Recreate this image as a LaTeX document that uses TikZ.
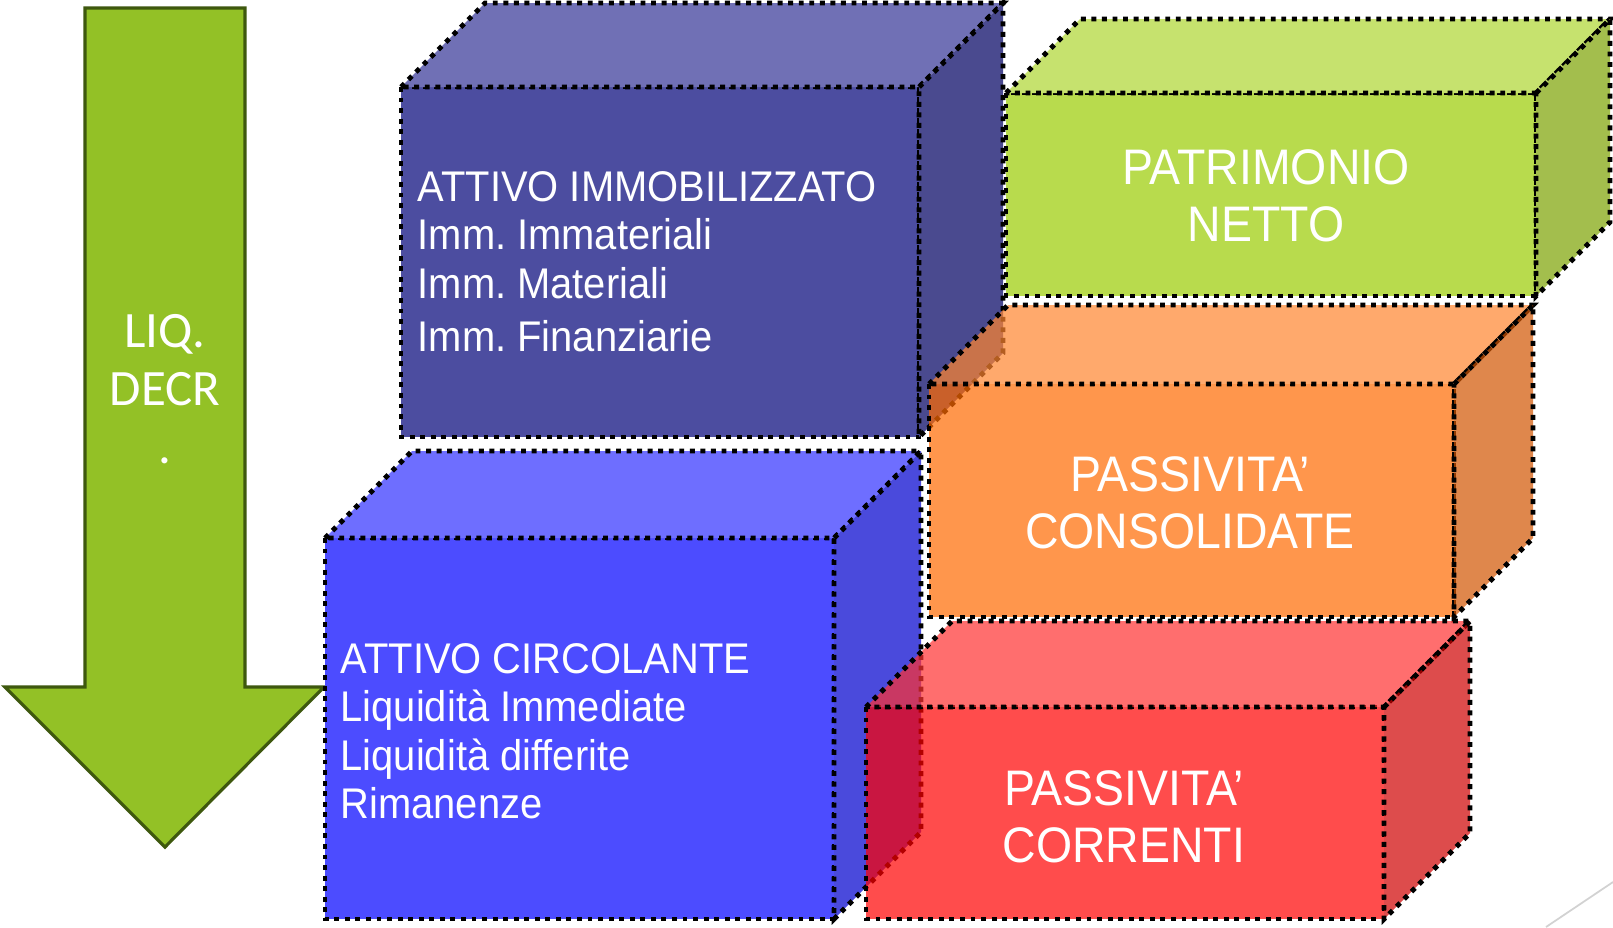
\documentclass[tikz,border=0pt]{standalone}
\usepackage{fontspec}
\setmainfont{Liberation Sans}[FakeStretch=0.93]
\newfontfamily\liqfont{Carlito}
\usepackage{xcolor}
\usepackage{tikz}
\usetikzlibrary{positioning}
\frenchspacing

\definecolor{arrowgreen}{RGB}{147,193,38}
\definecolor{arrowedge}{RGB}{62,88,14}
\definecolor{navyfront}{RGB}{76,77,160}
\definecolor{navytop}{RGB}{112,112,181}
\definecolor{navyside}{RGB}{74,74,143}
\definecolor{bluefront}{RGB}{76,76,255}
\definecolor{bluetop}{RGB}{110,110,255}
\definecolor{blueside}{RGB}{74,74,220}
\definecolor{greenfront}{RGB}{184,219,77}
\definecolor{greentop}{RGB}{198,226,110}
\definecolor{greenside}{RGB}{163,190,77}
\definecolor{orangefront}{RGB}{255,106,0}
\definecolor{orangetop}{RGB}{255,133,46}
\definecolor{orangeside}{RGB}{209,84,0}
\definecolor{redfront}{RGB}{255,0,0}
\definecolor{redtop}{RGB}{255,49,49}
\definecolor{redside}{RGB}{206,0,0}

\tikzset{
  cubeedge/.style={draw=black, line width=1.4pt, dash pattern=on 1.4pt off 1.6pt},
  itemtext/.style={text=white, anchor=north west, inner sep=0pt, align=left, font=\fontsize{12.2}{13.7}\selectfont},
  titletext/.style={text=white, align=center, inner sep=0pt, font=\fontsize{14.2}{16.2}\selectfont},
  liqtext/.style={text=white, anchor=north, inner sep=0pt, align=center, font=\liqfont\fontsize{14.5}{16.5}\selectfont},
}

% x, y of front top-left corner, width, height, depth, colour, opacity
\newcommand{\drawcube}[7]{%
  \draw[cubeedge, fill=#6front, fill opacity=#7] (#1,#2) rectangle ++(#3,#4);
  \draw[cubeedge, fill=#6top, fill opacity=#7] (#1,#2) -- ++(#5,-#5) -- ++(#3,0) -- ++(-#5,#5) -- cycle;
  \draw[cubeedge, fill=#6side, fill opacity=#7] (#1+#3,#2) -- ++(#5,-#5) -- ++(0,#4) -- ++(-#5,#5) -- cycle;
}

\begin{document}
\begin{tikzpicture}[x=0.01cm, y=-0.01cm]
\useasboundingbox (0,0) rectangle (1613,927);

%liquidity arrow
\draw[fill=arrowgreen, draw=arrowedge, line width=0.9pt] (85,8)--(245,8)--(245,687)--(324,687)--(165,847)--(5,687)--(85,687)--cycle;
\node[liqtext] (liq) at (165,314) {LIQ.\\DECR\\.};

%assets
\drawcube{401}{87}{518}{350}{84}{navy}{1}
\drawcube{325}{538}{509}{381}{87}{blue}{1}

%equity
\drawcube{1006}{93}{530}{203}{74}{green}{1}

%liabilities
\drawcube{929}{384}{525}{233}{79}{orange}{0.7}
\drawcube{866}{707}{518}{212}{86}{red}{0.7}

\node[itemtext] (immob) at (417,171) {ATTIVO IMMOBILIZZATO\\Imm. Immateriali\\Imm. Materiali\\[1.6pt]Imm. Finanziarie};
\node[itemtext] (circ) at (340,643) {ATTIVO CIRCOLANTE\\Liquidità Immediate\\Liquidità differite\\Rimanenze};

\node[titletext] (netto) at (1266,196) {PATRIMONIO\\NETTO};
\node[titletext] (consol) at (1190,503) {PASSIVITA’\\CONSOLIDATE};
\node[titletext] (corr) at (1124,817) {PASSIVITA’\\CORRENTI};

%slide corner
\draw[gray!35, line width=0.5pt] (1546,927) -- (1613,882);

\end{tikzpicture}
\end{document}
